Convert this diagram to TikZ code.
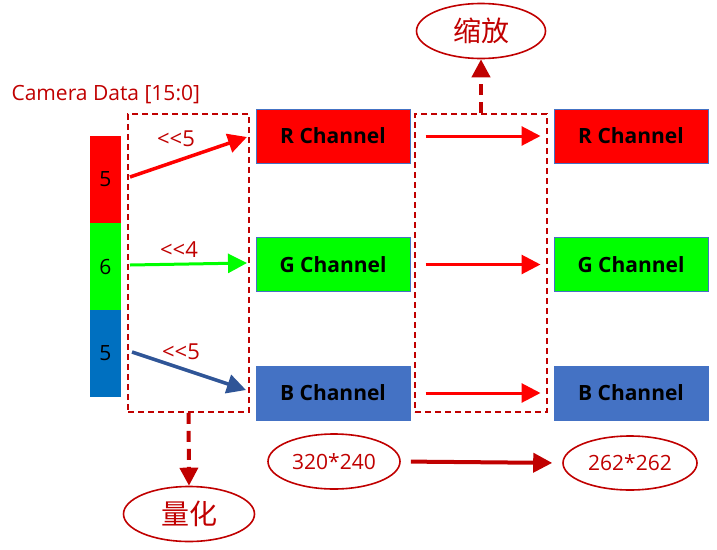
\documentclass[tikz,border=0pt]{standalone}
\usepackage{fontspec}
\setmainfont{Open Sans}
\newfontfamily\cjk{Noto Sans CJK SC}
\usetikzlibrary{arrows.meta,shapes.geometric}

\definecolor{darkred}{HTML}{C00000}
\definecolor{chanR}{HTML}{FF0000}
\definecolor{chanG}{HTML}{00FF00}
\definecolor{chanB}{HTML}{4472C4}
\definecolor{bitB}{HTML}{0070C0}
\definecolor{arrB}{HTML}{2F5597}

\tikzset{
    chan/.style={draw=chanB, line width=1pt, minimum width=154pt, minimum height=54pt, inner sep=0pt, font=\fontsize{21}{23}\selectfont\bfseries},
    bit/.style={minimum width=31pt, minimum height=87pt, inner sep=0pt, font=\fontsize{21}{23}\selectfont},
    dbox/.style={draw=darkred, line width=1.6pt, dash pattern=on 6pt off 4pt, minimum height=298pt, inner sep=0pt},
    tag/.style={draw=darkred, line width=1.6pt, ellipse, inner sep=0pt, text=darkred},
    shiftlbl/.style={text=darkred, font=\fontsize{22}{24}\selectfont},
    fat/.style={-{Triangle[length=19pt, width=19pt]}, line width=3.5pt},
    dfat/.style={-{Triangle[length=18pt, width=18pt]}, line width=4pt, darkred, dash pattern=on 11pt off 7pt}
}

\begin{document}
\begin{tikzpicture}[x=1pt, y=-1pt]
    \useasboundingbox (0,0) rectangle (717,549);

    % Datos de la camara
    \node[text=darkred, font=\fontsize{21}{23}\selectfont, anchor=west] (cam) at (8,95) {Camera Data [15:0]};
    \node[bit, fill=chanR] (bitr) at (105.5,179.5) {5};
    \node[bit, fill=chanG] (bitg) at (105.5,266.5) {6};
    \node[bit, fill=bitB]  (bitb) at (105.5,353.5) {5};

    % Cajas punteadas
    \node[dbox, minimum width=121pt] (quant) at (188.5,263) {};
    \node[dbox, minimum width=132pt] (scale) at (481,263) {};

    % Canales
    \node[chan, fill=chanR] (r1) at (333,136) {R Channel};
    \node[chan, fill=chanG] (g1) at (333,264.5) {G Channel};
    \node[chan, fill=chanB] (b1) at (333,393) {B Channel};
    \node[chan, fill=chanR] (r2) at (631,136) {R Channel};
    \node[chan, fill=chanG] (g2) at (631,264.5) {G Channel};
    \node[chan, fill=chanB] (b2) at (631,393) {B Channel};

    % Elipses
    \node[tag, minimum width=129pt, minimum height=55pt, font=\cjk\fontsize{28}{30}\selectfont] (zoomtag) at (481,31) {缩放};
    \node[tag, minimum width=131pt, minimum height=55pt, font=\cjk\fontsize{28}{30}\selectfont] (quanttag) at (189,514) {量化};
    \node[tag, minimum width=132pt, minimum height=55pt, font=\fontsize{21}{23}\selectfont] (src) at (334,461.5) {320*240};
    \node[tag, minimum width=134pt, minimum height=54pt, font=\fontsize{21}{23}\selectfont] (dst) at (630,463) {262*262};

    % Flechas de desplazamiento
    \coordinate (rs) at (130,177);
    \coordinate (gs) at (130,265);
    \coordinate (bs) at (132,352);
    \draw[fat, chanR] (rs) -- (247,137);
    \draw[fat, chanG, line width=3pt] (gs) -- (247,263);
    \draw[fat, arrB] (bs) -- (246,390);
    \node[shiftlbl] (shr) at (176,139) {<{}<5};
    \node[shiftlbl] (shg) at (179,250) {<{}<4};
    \node[shiftlbl] (shb) at (181,352) {<{}<5};

    % Flechas de escala
    \draw[fat, chanR, line width=3pt, shorten <=15pt, shorten >=13pt] (r1.east) -- (r2.west);
    \draw[fat, chanR, line width=3pt, shorten <=15pt, shorten >=13pt] (g1.east) -- (g2.west);
    \draw[fat, chanR, line width=3pt, shorten <=15pt, shorten >=13pt] (b1.east) -- (b2.west);
    \draw[fat, darkred, line width=4pt, shorten <=10pt, shorten >=10pt] (src.east) -- (dst.west);

    % Flechas punteadas
    \draw[dfat] (quant.south) -- (quanttag.north);
    \draw[dfat] (scale.north) -- (zoomtag.south);
\end{tikzpicture}
\end{document}
